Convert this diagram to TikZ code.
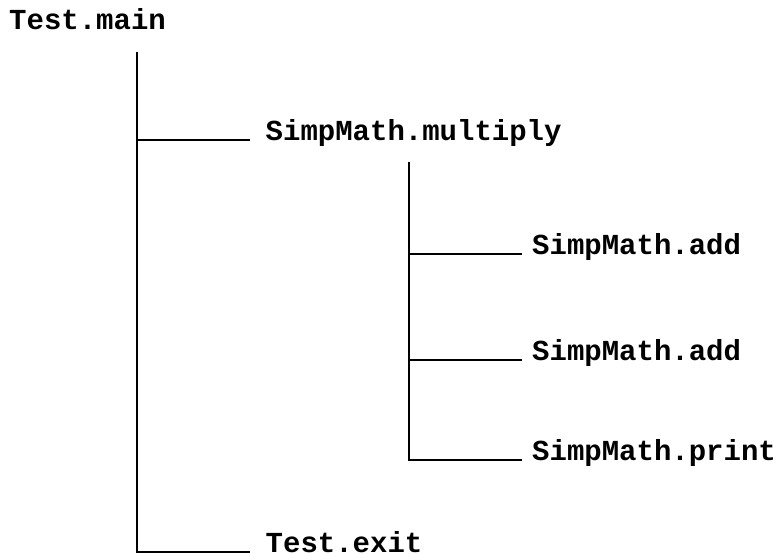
\documentclass[tikz,border=0pt]{standalone}
\usepackage{fontspec}
\setmonofont{Liberation Mono}
\begin{document}
\begin{tikzpicture}[x=1pt,y=1pt,
  call/.style={anchor=base west, inner ysep=0pt,
    font=\fontsize{29}{29}\selectfont\ttfamily\bfseries},
  outer/.style={call, inner xsep=16pt},
  inner/.style={call, inner xsep=10pt},
  root/.style={call, inner xsep=0pt},
  branch/.style={draw=black, line width=2pt}]
\useasboundingbox (0,0) rectangle (777,-554);

% root and its call tree
\node[root] (main) at (9,-29) {Test.main};
\coordinate (trunk) at (136.5,-52);
\node[outer] (mult) at (249.5,-140) {SimpMath.multiply};
\node[outer] (exit) at (249.5,-552) {Test.exit};

\coordinate (sub) at (409,-162);
\node[inner] (add1) at (522,-254) {SimpMath.add};
\node[inner] (add2) at (522,-360) {SimpMath.add};
\node[inner] (print) at (522,-460) {SimpMath.print};

% connectors
\draw[branch] (trunk) |- (mult.base west);
\draw[branch] (trunk) |- (exit.base west);
\draw[branch] (sub) |- (add1.base west);
\draw[branch] (sub) |- (add2.base west);
\draw[branch] (sub) |- (print.base west);
\end{tikzpicture}
\end{document}
